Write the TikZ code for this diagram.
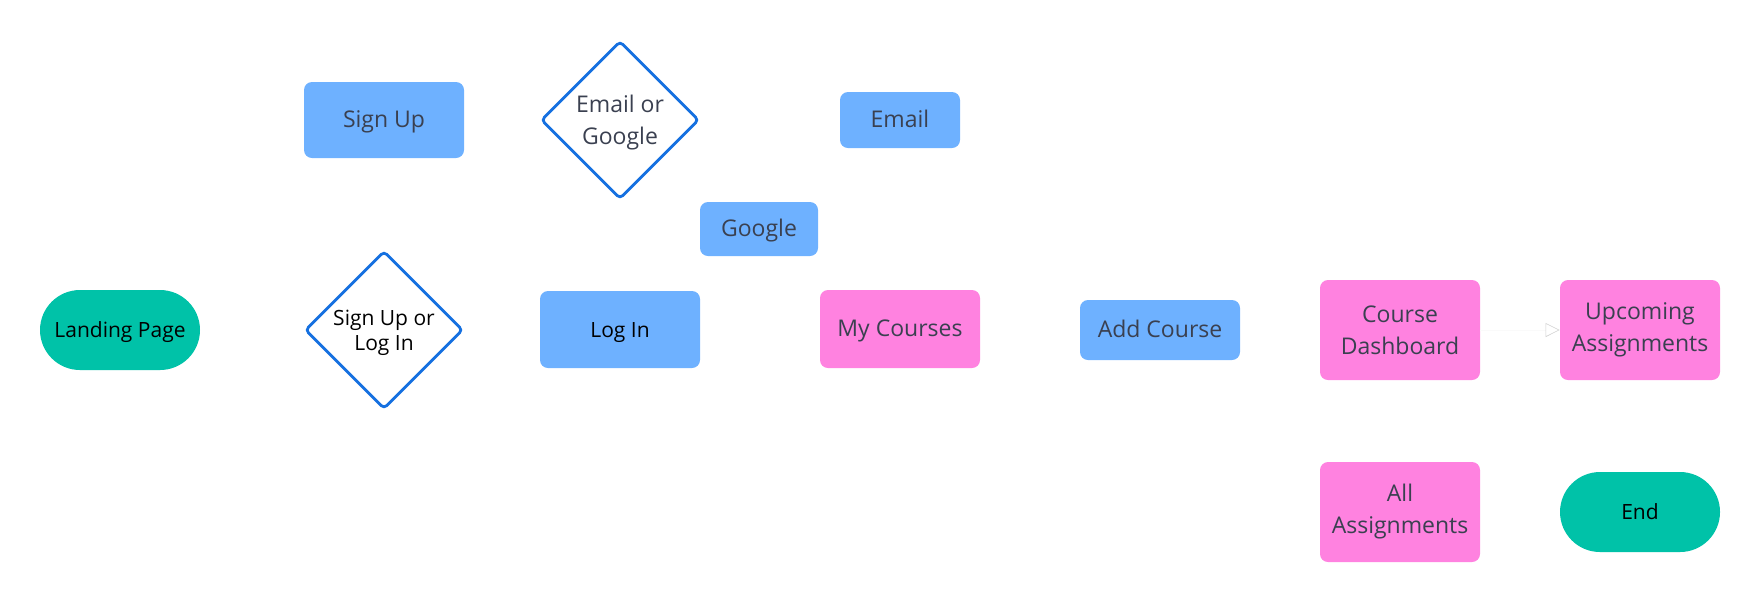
\documentclass[tikz,border=0pt]{standalone}
\usepackage{fontspec}
\setmainfont{Open Sans}
\usepackage{xcolor}
\usepackage{tikz}
\usetikzlibrary{shapes.geometric,arrows.meta}
\definecolor{teal}{HTML}{00C2A8}
\definecolor{skyblue}{HTML}{6EB1FF}
\definecolor{pink}{HTML}{FF82E0}
\definecolor{edge}{HTML}{1570E0}
\definecolor{ink}{HTML}{3A4050}
\definecolor{faintgray}{HTML}{CFCFCF}
\tikzset{
  lab/.style={font=\fontsize{10.5}{15}\selectfont, align=center, inner sep=0pt, text=black},
  inklab/.style={font=\fontsize{11.5}{16}\selectfont, text=ink},
  oneline/.style={text height=1.05em, text depth=0.29em},
  term/.style={lab, oneline, fill=teal, rounded corners=20pt, minimum width=80pt, minimum height=40pt},
  bluebox/.style={lab, fill=skyblue, rounded corners=4pt},
  pinkbox/.style={lab, inklab, fill=pink, rounded corners=4pt, minimum width=80pt, minimum height=50pt},
  decide/.style={lab, diamond, aspect=1, draw=edge, line width=1.4pt, rounded corners=2pt, minimum width=79pt, minimum height=79pt},
  faintarrow/.style={draw=black!2, line width=0.3pt, -{Triangle[open, color=faintgray, length=7pt, width=7pt]}},
}

\begin{document}
\begin{tikzpicture}[x=0.5pt, y=-0.5pt]
  \useasboundingbox (0,0) rectangle (1760,602);

  \node[term] (landing) at (120,330) {Landing Page};
  \node[decide, font=\fontsize{10.5}{12.5}\selectfont, text depth=-0.5pt] (signorlog) at (384,330) {Sign Up or\\Log In};
  \node[bluebox, inklab, oneline, minimum width=80pt, minimum height=38pt] (signup) at (384,120) {Sign Up};
  \node[decide, inklab, text depth=-1.2pt] (emailorgoogle) at (620,120) {Email or\\Google};
  \node[bluebox, inklab, oneline, minimum width=60pt, minimum height=28pt] (email) at (900,120) {Email};
  \node[bluebox, inklab, oneline, minimum width=59pt, minimum height=27pt] (google) at (759,229) {Google};
  \node[bluebox, oneline, minimum width=80pt, minimum height=38.5pt] (login) at (620,329.5) {Log In};
  \node[pinkbox, oneline, minimum height=39pt] (mycourses) at (900,329) {My Courses};
  \node[bluebox, inklab, oneline, minimum width=80pt, minimum height=30pt] (addcourse) at (1160,330) {Add Course};
  \node[pinkbox] (dashboard) at (1400,330) {Course\\Dashboard};
  \node[pinkbox] (upcoming) at (1640,330) {Upcoming\\Assignments};
  \node[pinkbox] (allassign) at (1400,512) {All\\Assignments};
  \node[term] (finish) at (1640,512) {End};

  \draw[faintarrow] (dashboard) -- (upcoming);
\end{tikzpicture}
\end{document}
